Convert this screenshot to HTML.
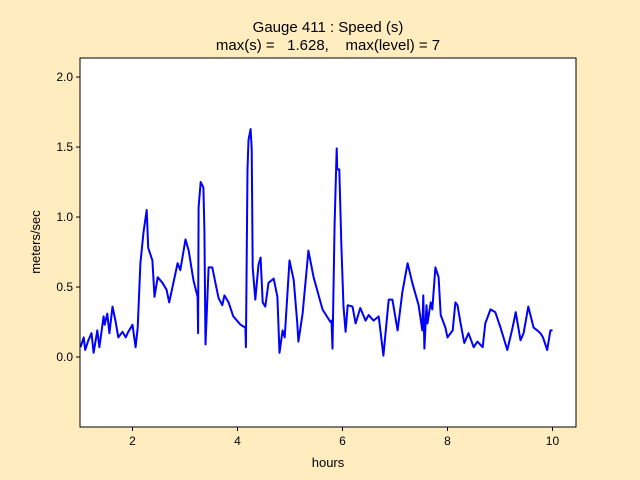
<!DOCTYPE html>
<html><head><meta charset="utf-8"><style>
html,body{margin:0;padding:0;background:#ffedbf;}
svg{display:block;font-family:"Liberation Sans","DejaVu Sans",sans-serif;}
</style></head><body>
<svg id="chart" width="640" height="480" xmlns="http://www.w3.org/2000/svg">
<rect width="640" height="480" fill="#ffedbf"/>
<rect x="80" y="58" width="496" height="369" fill="#fff"/>
<text x="328" y="32" text-anchor="middle" font-size="15">Gauge 411 : Speed (s)</text>
<text x="328" y="50" text-anchor="middle" font-size="15" xml:space="preserve">max(s) =   1.628,    max(level) = 7</text>
<text x="328" y="467" text-anchor="middle" font-size="13">hours</text>
<text transform="translate(40,242) rotate(-90)" text-anchor="middle" font-size="13">meters/sec</text>
<g id="ticks"></g>
<path id="line" fill="none" stroke="#0000ff" stroke-width="2" stroke-linejoin="round"/>
<rect x="80" y="58" width="496" height="369" fill="none" stroke="#000" stroke-width="1"/>
</svg>
<script>
const hours=[1.01,1.07,1.10,1.16,1.22,1.26,1.33,1.37,1.45,1.47,1.52,1.56,1.62,1.68,1.73,1.81,1.87,1.92,2.00,2.06,2.10,2.15,2.21,2.27,2.30,2.38,2.42,2.48,2.57,2.65,2.70,2.78,2.86,2.91,3.01,3.07,3.16,3.24,3.25,3.26,3.30,3.35,3.37,3.39,3.45,3.52,3.58,3.64,3.71,3.75,3.83,3.92,4.06,4.15,4.16,4.19,4.21,4.25,4.27,4.29,4.34,4.40,4.44,4.48,4.53,4.59,4.69,4.76,4.80,4.86,4.90,4.99,5.07,5.14,5.16,5.24,5.35,5.45,5.62,5.77,5.79,5.81,5.85,5.89,5.90,5.94,5.98,6.02,6.06,6.10,6.19,6.25,6.34,6.44,6.50,6.59,6.69,6.78,6.88,6.95,7.05,7.14,7.24,7.33,7.45,7.52,7.54,7.56,7.60,7.62,7.68,7.71,7.77,7.83,7.87,7.96,8.00,8.10,8.15,8.19,8.25,8.32,8.40,8.50,8.57,8.67,8.72,8.82,8.91,9.01,9.14,9.24,9.30,9.39,9.45,9.54,9.64,9.71,9.77,9.82,9.90,9.96,10.0];
const speeds=[0.07,0.14,0.05,0.12,0.17,0.03,0.19,0.07,0.29,0.23,0.31,0.17,0.36,0.25,0.14,0.18,0.14,0.18,0.23,0.07,0.21,0.67,0.89,1.05,0.78,0.69,0.43,0.57,0.53,0.48,0.39,0.53,0.67,0.62,0.84,0.76,0.55,0.43,0.17,1.07,1.25,1.21,0.91,0.09,0.64,0.64,0.53,0.42,0.37,0.44,0.39,0.29,0.23,0.21,0.07,1.34,1.55,1.628,1.49,0.64,0.41,0.66,0.71,0.39,0.36,0.53,0.56,0.43,0.03,0.19,0.14,0.69,0.55,0.24,0.11,0.31,0.76,0.57,0.34,0.25,0.26,0.06,0.95,1.49,1.34,1.34,0.79,0.36,0.18,0.37,0.36,0.24,0.35,0.26,0.30,0.26,0.29,0.01,0.41,0.41,0.19,0.46,0.67,0.53,0.37,0.19,0.44,0.06,0.37,0.24,0.39,0.34,0.64,0.57,0.30,0.21,0.14,0.19,0.39,0.37,0.24,0.10,0.17,0.07,0.11,0.07,0.24,0.34,0.32,0.21,0.05,0.21,0.32,0.12,0.17,0.36,0.21,0.19,0.17,0.14,0.05,0.19,0.19];
const xTicks=[2,4,6,8,10];
const yTicks=[0.0,0.5,1.0,1.5,2.0];
const yTickLabels=["0.0","0.5","1.0","1.5","2.0"];
const X0=80,X1=576,Y0=427,Y1=58, xMin=1,xMax=10.448,yMin=-0.5,yMax=2.136;
function sx(v){return X0+(v-xMin)/(xMax-xMin)*(X1-X0);}
function sy(v){return Y0-(v-yMin)/(yMax-yMin)*(Y0-Y1);}
const NS="http://www.w3.org/2000/svg";
const g=document.getElementById('ticks');
xTicks.forEach(t=>{
  const l=document.createElementNS(NS,'line');
  l.setAttribute('x1',sx(t));l.setAttribute('x2',sx(t));l.setAttribute('y1',Y0);l.setAttribute('y2',Y0+4);l.setAttribute('stroke','#000');
  
  
  g.appendChild(l);
  const tx=document.createElementNS(NS,'text');
  tx.setAttribute('x',sx(t));tx.setAttribute('y',Y0+18);tx.setAttribute('text-anchor','middle');tx.setAttribute('font-size','12');
  tx.textContent=String(t);
  
  
  g.appendChild(tx);
});
yTicks.forEach((t,i)=>{
  const l=document.createElementNS(NS,'line');
  l.setAttribute('x1',X0-4);l.setAttribute('x2',X0);l.setAttribute('y1',sy(t));l.setAttribute('y2',sy(t));l.setAttribute('stroke','#000');
  
  
  g.appendChild(l);
  const tx=document.createElementNS(NS,'text');
  tx.setAttribute('x',X0-7);tx.setAttribute('y',sy(t)+4);tx.setAttribute('text-anchor','end');tx.setAttribute('font-size','12');
  tx.textContent=yTickLabels[i];
  
  
  g.appendChild(tx);
});
document.getElementById('line').setAttribute('d',hours.map((h,i)=>(i?'L':'M')+sx(h).toFixed(1)+','+sy(speeds[i]).toFixed(1)).join(''));
</script>
</body></html>
